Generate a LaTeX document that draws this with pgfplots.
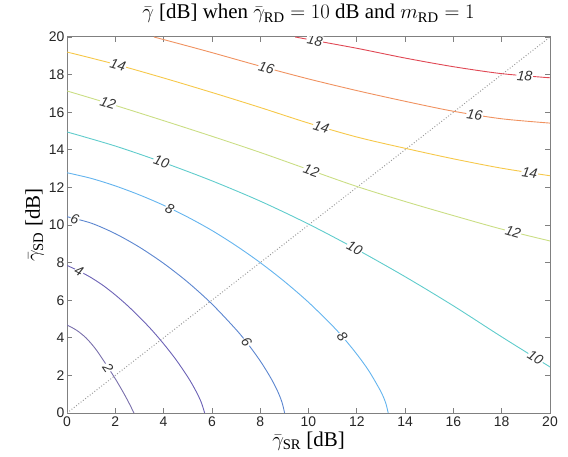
\documentclass[border=0pt]{standalone}
\usepackage{fontspec}
\setmainfont{Liberation Serif}
\setsansfont{Liberation Sans}
\usepackage{pgfplots}
\pgfplotsset{compat=1.18}
\usetikzlibrary{calc}
\definecolor{cTwo}{RGB}{122,112,172}
\definecolor{cFour}{RGB}{108,98,182}
\definecolor{cSix}{RGB}{92,134,208}
\definecolor{cEight}{RGB}{100,180,238}
\definecolor{cTen}{RGB}{96,204,204}
\definecolor{cTwelve}{RGB}{202,222,132}
\definecolor{cFourteen}{RGB}{246,200,74}
\definecolor{cSixteen}{RGB}{240,146,96}
\definecolor{cEighteen}{RGB}{224,72,84}
\definecolor{frameGray}{RGB}{128,128,128}
\tikzset{lbl/.style={font=\fontsize{14}{14}\sffamily\itshape,fill=white,inner sep=0.6bp,text=black!80}}

\begin{document}
\begin{tikzpicture}
\begin{axis}[
 scale only axis,width=483bp,height=376bp,
 xmin=0,xmax=20,ymin=0,ymax=20,
 xtick={0,2,...,20},ytick={0,2,...,20},
 tick align=inside,
 axis line style={draw=frameGray,line width=1bp},
 major tick style={draw=frameGray,line width=0.8bp},major tick length=5bp,
 tick label style={font=\fontsize{14}{14}\sffamily,text=black!85},
 yticklabel style={xshift=1bp},
 /pgf/number format/assume math mode=true,
 title={$\bar{\gamma}$ [dB] when $\bar{\gamma}_{\mathrm{RD}}=10$ dB and $m_{\mathrm{RD}}=1$},
 title style={font=\fontsize{21}{21}\selectfont,at={(axis description cs:0.5,1.032)},anchor=base},
 xlabel={$\bar{\gamma}_{\mathrm{SR}}$ [dB]},
 ylabel={$\bar{\gamma}_{\mathrm{SD}}$ [dB]},
 label style={font=\fontsize{21}{21}\selectfont},
 xlabel style={at={(axis description cs:0.5,-0.088)},anchor=base},
 ylabel style={at={(axis description cs:-0.056,0.5)},anchor=base},
 every axis plot/.append style={line width=0.9bp,smooth,no markers},
]
\addplot[frameGray!80,dotted,line width=1bp,sharp plot] coordinates {(0,0) (20,20)};

\addplot[cTwo] coordinates {(0,4.68) (0.4,4.40) (0.8,3.98) (1.2,3.38) (1.6,2.62) (2.0,1.82) (2.35,1.05) (2.6,0.45) (2.77,0)};
\addplot[cFour] coordinates {(0,7.85) (0.5,7.55) (1,7.20) (1.5,6.78) (2,6.28) (2.5,5.72) (3,5.10) (3.5,4.43) (4,3.68) (4.5,2.86) (5,1.92) (5.3,1.26) (5.55,0.60) (5.70,0)};
\addplot[cSix] coordinates {(0,10.44) (1,10.10) (2,9.54) (3,8.82) (4,7.96) (5,6.96) (6,5.80) (7,4.44) (7.5,3.66) (8,2.77) (8.4,1.95) (8.7,1.22) (8.9,0.58) (9.01,0)};
\addplot[cEight] coordinates {(0,12.78) (1,12.48) (2,12.08) (3,11.60) (4,11.05) (5,10.42) (6,9.71) (7,8.90) (8,8.00) (9,7.00) (10,5.89) (11,4.63) (11.5,3.92) (12,3.13) (12.5,2.24) (13,1.13) (13.2,0.52) (13.3,0)};
\addplot[cTen] coordinates {(0,14.95) (2,14.20) (4,13.32) (6,12.35) (8,11.27) (10,10.05) (12,8.70) (14,7.25) (16,5.70) (18,4.05) (20,2.45)};
\addplot[cTwelve] coordinates {(0,17.13) (2,16.36) (4,15.55) (6,14.72) (8,13.86) (10,12.95) (12,12.05) (14,11.25) (16,10.50) (18,9.78) (20,9.15)};
\addplot[cFourteen] coordinates {(0,19.20) (2,18.55) (4,17.82) (6,17.05) (8,16.25) (10,15.42) (12,14.68) (14,14.08) (16,13.52) (18,13.02) (20,12.62)};
\addplot[cSixteen] coordinates {(3.6,20) (5,19.52) (6,19.17) (8,18.45) (10,17.77) (12,17.15) (14,16.58) (16,16.05) (18,15.65) (20,15.42)};
\addplot[cEighteen] coordinates {(9.45,20) (10,19.87) (12,19.40) (14,18.88) (16,18.42) (18,18.05) (20,17.83)};

\node[lbl,rotate=-56] at (axis cs:1.70,2.42) {2};
\node[lbl,rotate=-27] at (axis cs:0.50,7.53) {4};
\node[lbl,rotate=-18] at (axis cs:0.32,10.30) {6};
\node[lbl,rotate=-55] at (axis cs:7.43,3.77) {6};
\node[lbl,rotate=-26] at (axis cs:4.25,10.88) {8};
\node[lbl,rotate=-52] at (axis cs:11.40,4.06) {8};
\node[lbl,rotate=-19] at (axis cs:3.91,13.36) {10};
\node[lbl,rotate=-28] at (axis cs:11.91,8.76) {10};
\node[lbl,rotate=-32] at (axis cs:19.40,2.93) {10};
\node[lbl,rotate=-17] at (axis cs:1.70,16.48) {12};
\node[lbl,rotate=-19] at (axis cs:10.12,12.90) {12};
\node[lbl,rotate=-16] at (axis cs:18.47,9.63) {12};
\node[lbl,rotate=-16] at (axis cs:2.11,18.51) {14};
\node[lbl,rotate=-17] at (axis cs:10.53,15.22) {14};
\node[lbl,rotate=-9] at (axis cs:19.16,12.79) {14};
\node[lbl,rotate=-15] at (axis cs:8.26,18.36) {16};
\node[lbl,rotate=-9] at (axis cs:16.88,15.87) {16};
\node[lbl,rotate=-11] at (axis cs:10.26,19.81) {18};
\node[lbl,rotate=-5] at (axis cs:18.95,17.93) {18};

\coordinate (ll) at (rel axis cs:0,0);
\coordinate (ur) at (rel axis cs:1,1);
\end{axis}
\pgfresetboundingbox
\path[use as bounding box] ($(ll)+(-67bp,-44bp)$) rectangle ($(ur)+(18bp,37bp)$);
\end{tikzpicture}
\end{document}
